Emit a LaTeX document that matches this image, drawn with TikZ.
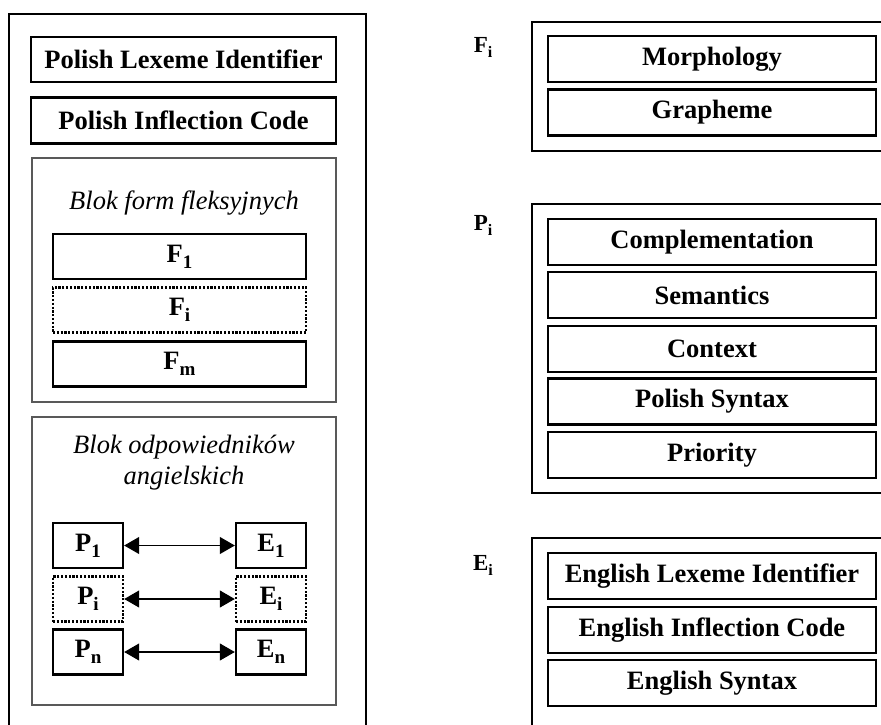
\documentclass[tikz,border=0pt]{standalone}
\usepackage{fontspec}
\setmainfont{Liberation Serif}
\usetikzlibrary{arrows.meta}
\newcommand{\mysub}[1]{\raisebox{-0.22em}{\fontsize{19}{20}\selectfont\bfseries #1}}
\newcommand{\mysubs}[1]{\raisebox{-0.22em}{\fontsize{16}{18}\selectfont\bfseries #1}}
\begin{document}
\begin{tikzpicture}[x=1pt,y=-1pt,
  frame/.style={draw=black,line width=2.2pt},
  grayblock/.style={draw=black!65,line width=1.2pt},
  field/.style={draw=black,line width=2.4pt,fill=white,inner sep=0pt,minimum height=45pt,
    font=\fontsize{26.5}{30}\selectfont\bfseries},
  item/.style={field,font=\fontsize{26.5}{30}\selectfont\bfseries},
  dotitem/.style={item,dash pattern=on 2.2pt off 1.6pt},
  title/.style={inner sep=0pt,align=center,font=\fontsize{26.5}{31}\selectfont\itshape},
  lbl/.style={inner sep=0pt,font=\fontsize{23}{26}\selectfont\bfseries},
  link/.style={line width=1.1pt,{Triangle[length=15pt,width=17pt]}-{Triangle[length=15pt,width=17pt]}}
]
\useasboundingbox (0,0) rectangle (881,724);
% left panel
\draw[frame] (9,14) rectangle (366,760);
\node[field,minimum width=305pt] (pli) at (183.5,59.5) {Polish Lexeme Identifier};
\node[field,minimum width=305pt,minimum height=46pt] (pic) at (183.5,120.5) {Polish Inflection Code};
\draw[grayblock] (32,158) rectangle (336,402);
\node[title] (tf) at (184,203) {Blok form fleksyjnych};
\node[item,minimum width=253pt] (f1) at (179.5,256.5) {F\mysub{1}};
\node[dotitem,minimum width=253pt] (fi) at (179.5,310) {F\mysub{i}};
\node[item,minimum width=253pt] (fm) at (179.5,364) {F\mysub{m}};
\draw[grayblock] (32,417) rectangle (336,705);
\node[title] (te) at (184,462.5) {Blok odpowiedników\\angielskich};
\node[item,minimum width=70pt] (p1) at (88,545.5) {P\mysub{1}};
\node[dotitem,minimum width=70pt] (pi) at (88,599) {P\mysub{i}};
\node[item,minimum width=70pt] (pn) at (88,652) {P\mysub{n}};
\node[item,minimum width=70pt] (e1) at (271,545.5) {E\mysub{1}};
\node[dotitem,minimum width=70pt] (ei) at (271,599) {E\mysub{i}};
\node[item,minimum width=70pt] (en) at (271,652) {E\mysub{n}};
\draw[link] (p1.east) -- (e1.west);
\draw[link] (pi.east) -- (ei.west);
\draw[link] (pn.east) -- (en.west);
% F panel
\draw[frame] (532,22) rectangle (900,151);
\node[lbl] (lf) at (483,47) {F\mysubs{i}};
\node[field,minimum width=328pt,minimum height=46pt] (morph) at (712,59) {Morphology};
\node[field,minimum width=328pt,minimum height=46pt] (graph) at (712,112.5) {Grapheme};
% P panel
\draw[frame] (532,204) rectangle (900,493);
\node[lbl] (lp) at (483,225) {P\mysubs{i}};
\node[field,minimum width=328pt,minimum height=46pt] (comp) at (712,242) {Complementation};
\node[field,minimum width=328pt,minimum height=46pt] (sem) at (712,295) {Semantics};
\node[field,minimum width=328pt,minimum height=46pt] (ctx) at (712,349) {Context};
\node[field,minimum width=328pt,minimum height=46pt] (psyn) at (712,401.5) {Polish Syntax};
\node[field,minimum width=328pt,minimum height=46pt] (prio) at (712,455) {Priority};
% E panel
\draw[frame] (532,538) rectangle (900,760);
\node[lbl] (le) at (483,565) {E\mysubs{i}};
\node[field,minimum width=328pt,minimum height=46pt] (eli) at (712,576) {English Lexeme Identifier};
\node[field,minimum width=328pt,minimum height=46pt] (eic) at (712,630) {English Inflection Code};
\node[field,minimum width=328pt,minimum height=46pt] (esyn) at (712,683) {English Syntax};
\end{tikzpicture}
\end{document}
